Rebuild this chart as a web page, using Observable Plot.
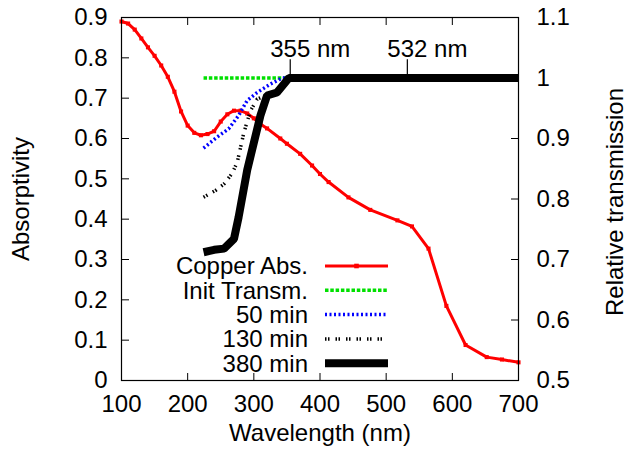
<!DOCTYPE html>
<html><head><meta charset="utf-8">
<script src="https://cdn.jsdelivr.net/npm/d3@7"></script>
<script src="https://cdn.jsdelivr.net/npm/@observablehq/plot@0.6"></script>
<style>
body{margin:0;background:#fff;}
#chart{position:relative;width:628px;height:457px;}
</style>
</head><body><div id="chart"></div>
<script>
// ---- data ----
const copperWl  = [100,110,120,130,140,150,160,170,180,190,200,210,220,230,240,250,260,270,280,290,300,310,320,340,350,370,388,400,413,443,476,517,539,564,591,620,652,675,700];
const copperAbs = [0.89,0.885,0.87,0.848,0.826,0.805,0.781,0.753,0.716,0.667,0.632,0.614,0.608,0.611,0.618,0.642,0.66,0.669,0.669,0.662,0.65,0.636,0.625,0.6,0.587,0.562,0.533,0.512,0.492,0.454,0.423,0.397,0.382,0.327,0.185,0.088,0.058,0.052,0.045];

const initWl = [224,343,700];
const initT  = [1.0,1.0,1.0];

const min50Wl = [224,244,262,277,290,305,325,343,700];
const min50T  = [0.884,0.902,0.916,0.938,0.963,0.976,0.99,1.0,1.0];

const min130Wl = [224,242,255,267,275,285,295,305,320,335,353,700];
const min130T  = [0.803,0.814,0.825,0.842,0.861,0.91,0.946,0.965,0.972,0.978,1.0,1.0];

const min380Wl = [224,240,255,270,277,290,310,320,335,353,700];
const min380T  = [0.712,0.716,0.718,0.734,0.77,0.848,0.938,0.971,0.976,1.0,1.0];

const xTicks = [100,200,300,400,500,600,700];
const yTicks = [0,0.1,0.2,0.3,0.4,0.5,0.6,0.7,0.8,0.9];
const y2Ticks = [0.5,0.6,0.7,0.8,0.9,1.0,1.1];
const annotWl = [355,532];
const annotLabels = ["355 nm","532 nm"];
const annotT = 1.0;
const legendLabels = ["Copper Abs.","Init Transm.","50 min","130 min","380 min"];

// ---- helpers ----
const toY = t => (t - 0.5) * 1.5;      // right axis (0.5..1.1) -> left axis (0..0.9)
const fromY = y => +(y / 1.5 + 0.5).toFixed(2);
const zip = (xs, ys) => xs.map((x, i) => ({x, y: ys[i]}));
const zipT = (xs, ts) => xs.map((x, i) => ({x, y: toY(ts[i])}));

const copper = zip(copperWl, copperAbs);
const init = zipT(initWl, initT);
const m50 = zipT(min50Wl, min50T);
const m130 = zipT(min130Wl, min130T);
const m380 = zipT(min380Wl, min380T);

const FS = 24;
const font = "'Liberation Sans', Arial, Helvetica, sans-serif";

const plot = Plot.plot({
  width: 628, height: 457,
  marginLeft: 121, marginRight: 110, marginTop: 17, marginBottom: 77,
  x: {domain: [100, 700]},
  y: {domain: [0, 0.9]},
  style: {fontFamily: font, fontSize: FS + "px", background: "white", color: "black", overflow: "visible"},
  marks: [
    // lines
    Plot.line(copper, {x: "x", y: "y", stroke: "#ff0000", strokeWidth: 3}),
    Plot.dot(copper, {x: "x", y: "y", fill: "#ff0000", r: 2.3, symbol: "square"}),
    Plot.line(init, {x: "x", y: "y", stroke: "#00e000", strokeWidth: 3.5, strokeDasharray: "3.5,1.8", strokeLinecap: "butt"}),
    Plot.line(m50, {x: "x", y: "y", stroke: "#0000ff", strokeWidth: 3.5, strokeDasharray: "2,2.5", strokeLinecap: "butt"}),
    Plot.line(m130, {x: "x", y: "y", stroke: "black", strokeWidth: 3.5, strokeDasharray: "1.5,1.5,1.5,6", strokeLinecap: "butt"}),
    Plot.line(m380, {x: "x", y: "y", stroke: "black", strokeWidth: 8, strokeLinecap: "butt", strokeLinejoin: "miter"}),
    // annotations
    Plot.ruleX(annotWl, {x: d => d, y1: toY(annotT), y2: toY(annotT + 0.03), stroke: "black", strokeWidth: 1.2}),
    Plot.text(annotLabels, {x: (d, i) => annotWl[i], y: toY(annotT + 0.035), text: d => d, textAnchor: "start", dx: -20, lineAnchor: "bottom", fontSize: FS}),
    // axes: ticks inward
    Plot.axisX({ticks: xTicks, tickSize: 7, dy: -7, fill: "none", label: null}),
    Plot.axisX({anchor: "top", ticks: xTicks, tickSize: 7, dy: 7, fill: "none", label: null}),
    Plot.axisY({ticks: yTicks, tickSize: 8, dx: 8, fill: "none", label: null}),
    Plot.axisY({anchor: "right", ticks: y2Ticks.map(toY), tickSize: 8, dx: -8, fill: "none", label: null}),
    // tick labels
    Plot.axisX({ticks: xTicks, tickSize: 0, tickPadding: 14, label: null, fontSize: FS}),
    Plot.axisY({ticks: yTicks, tickSize: 0, tickPadding: 14, label: null, tickFormat: d => String(+d.toFixed(1)), fontSize: FS}),
    Plot.axisY({anchor: "right", ticks: y2Ticks.map(toY), tickSize: 0, tickPadding: 18, label: null, tickFormat: d => String(fromY(d)), fontSize: FS}),
    Plot.frame({stroke: "black", strokeWidth: 1.2}),
    // titles
    Plot.text(["Absorptivity"], {frameAnchor: "left", dx: -100, rotate: -90, textAnchor: "middle", text: d => d, fontSize: FS}),
    Plot.text(["Relative transmission"], {frameAnchor: "right", dx: 97, dy: 3, rotate: -90, textAnchor: "middle", text: d => d, fontSize: FS}),
    Plot.text(["Wavelength (nm)"], {frameAnchor: "bottom", dy: 60, textAnchor: "middle", text: d => d, fontSize: FS})
  ]
});
document.getElementById("chart").appendChild(plot);

// ---- legend (inside the plot, drawn with d3 into the Plot svg) ----
const svg = d3.select(plot);
const legendStyles = [
  {stroke: "#ff0000", width: 3, dash: null, marker: true},
  {stroke: "#00e000", width: 3.5, dash: "3.5,1.8"},
  {stroke: "#0000ff", width: 3.5, dash: "2,2.5"},
  {stroke: "black", width: 3.5, dash: "1.5,1.5,1.5,6"},
  {stroke: "black", width: 8, dash: null}
];
const lg = svg.append("g").attr("font-family", font).attr("font-size", FS);
const rowY0 = 266, rowStep = 24.3, textRight = 308, lineX1 = 325, lineX2 = 388;
legendLabels.forEach((lab, i) => {
  const y = rowY0 + i * rowStep;
  const s = legendStyles[i];
  lg.append("text").attr("x", textRight).attr("y", y).attr("dy", "0.35em")
    .attr("text-anchor", "end").attr("fill", "black").text(lab);
  lg.append("line").attr("x1", lineX1).attr("x2", lineX2).attr("y1", y).attr("y2", y)
    .attr("stroke", s.stroke).attr("stroke-width", s.width)
    .attr("stroke-dasharray", s.dash).attr("stroke-linecap", "butt");
  if (s.marker) {
    lg.append("rect").attr("x", (lineX1 + lineX2) / 2 - 2.3).attr("y", y - 2.3)
      .attr("width", 4.6).attr("height", 4.6).attr("fill", s.stroke);
  }
});
</script>
</body></html>
